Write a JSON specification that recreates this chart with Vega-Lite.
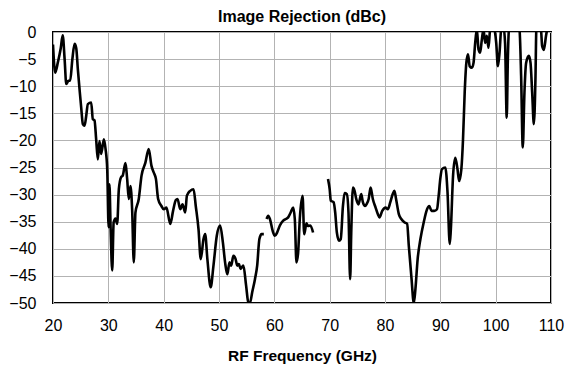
{
  "$schema": "https://vega.github.io/schema/vega-lite/v6.json",
  "width": 498,
  "height": 271,
  "autosize": "none",
  "padding": {"left": 53, "top": 32, "right": 22, "bottom": 66},
  "background": "white",
  "title": {"text": "Image Rejection (dBc)", "font": "Liberation Sans", "fontSize": 16, "fontWeight": "bold", "color": "#000000", "offset": -1, "anchor": "middle"},
  "config": {
    "view": {"stroke": "#000000", "strokeWidth": 2},
    "axis": {"labelFont": "Liberation Sans", "labelFontSize": 16, "labelColor": "#000000", "titleFont": "Liberation Sans", "titleFontSize": 15.5, "titleFontWeight": "bold", "titleColor": "#000000", "domain": false, "ticks": false, "gridColor": "#b3b3b3", "gridWidth": 1, "gridOpacity": 1}
  },
  "data": {"values": [
    {"f":20.0,"db":-2.3,"s":1},{"f":20.4,"db":-7.5,"s":1},{"f":20.9,"db":-5.5,"s":1},{"f":21.4,"db":-3.0,"s":1},{"f":21.75,"db":-0.6,"s":1},{"f":22.1,"db":-5.0,"s":1},{"f":22.4,"db":-9.6,"s":1},{"f":22.8,"db":-9.0,"s":1},{"f":23.1,"db":-9.0,"s":1},{"f":23.5,"db":-5.0,"s":1},{"f":23.9,"db":-2.2,"s":1},{"f":24.2,"db":-3.0,"s":1},{"f":24.5,"db":-7.0,"s":1},{"f":24.8,"db":-10.6,"s":1},{"f":25.1,"db":-14.0,"s":1},{"f":25.4,"db":-17.0,"s":1},{"f":25.7,"db":-17.3,"s":1},{"f":26.0,"db":-15.5,"s":1},{"f":26.3,"db":-13.3,"s":1},{"f":26.9,"db":-13.0,"s":1},{"f":27.2,"db":-16.1,"s":1},{"f":27.5,"db":-16.3,"s":1},{"f":27.8,"db":-19.8,"s":1},{"f":28.1,"db":-23.5,"s":1},{"f":28.4,"db":-20.1,"s":1},{"f":28.7,"db":-22.5,"s":1},{"f":29.2,"db":-19.8,"s":1},{"f":29.5,"db":-21.6,"s":1},{"f":29.8,"db":-25.3,"s":1},{"f":30.05,"db":-36.0,"s":1},{"f":30.2,"db":-28.1,"s":1},{"f":30.4,"db":-35.7,"s":1},{"f":30.7,"db":-44.0,"s":1},{"f":30.96,"db":-35.1,"s":1},{"f":31.3,"db":-34.4,"s":1},{"f":31.6,"db":-35.4,"s":1},{"f":31.9,"db":-29.0,"s":1},{"f":32.3,"db":-26.8,"s":1},{"f":32.6,"db":-26.5,"s":1},{"f":33.1,"db":-24.2,"s":1},{"f":33.4,"db":-27.1,"s":1},{"f":33.7,"db":-30.8,"s":1},{"f":34.0,"db":-28.4,"s":1},{"f":34.3,"db":-32.7,"s":1},{"f":34.6,"db":-42.5,"s":1},{"f":34.9,"db":-33.3,"s":1},{"f":35.5,"db":-30.8,"s":1},{"f":36.0,"db":-26.5,"s":1},{"f":36.7,"db":-24.1,"s":1},{"f":37.3,"db":-21.6,"s":1},{"f":37.8,"db":-24.7,"s":1},{"f":38.2,"db":-25.9,"s":1},{"f":38.6,"db":-27.1,"s":1},{"f":39.0,"db":-30.8,"s":1},{"f":39.6,"db":-32.1,"s":1},{"f":40.0,"db":-32.7,"s":1},{"f":40.5,"db":-32.4,"s":1},{"f":41.2,"db":-35.4,"s":1},{"f":41.7,"db":-33.0,"s":1},{"f":42.2,"db":-31.0,"s":1},{"f":42.5,"db":-30.8,"s":1},{"f":43.0,"db":-32.7,"s":1},{"f":43.4,"db":-31.8,"s":1},{"f":43.9,"db":-33.3,"s":1},{"f":44.2,"db":-30.2,"s":1},{"f":44.8,"db":-29.3,"s":1},{"f":45.4,"db":-29.0,"s":1},{"f":45.8,"db":-32.1,"s":1},{"f":46.3,"db":-36.4,"s":1},{"f":46.7,"db":-41.9,"s":1},{"f":47.2,"db":-38.2,"s":1},{"f":47.5,"db":-37.3,"s":1},{"f":47.9,"db":-41.9,"s":1},{"f":48.5,"db":-47.1,"s":1},{"f":49.0,"db":-43.1,"s":1},{"f":49.6,"db":-37.6,"s":1},{"f":50.2,"db":-35.7,"s":1},{"f":50.7,"db":-38.8,"s":1},{"f":51.1,"db":-42.5,"s":1},{"f":51.5,"db":-44.7,"s":1},{"f":51.9,"db":-42.5,"s":1},{"f":52.2,"db":-43.1,"s":1},{"f":52.6,"db":-41.3,"s":1},{"f":53.0,"db":-41.9,"s":1},{"f":53.3,"db":-43.1,"s":1},{"f":53.6,"db":-42.8,"s":1},{"f":53.9,"db":-43.7,"s":1},{"f":54.4,"db":-43.1,"s":1},{"f":54.9,"db":-46.8,"s":1},{"f":55.3,"db":-49.9,"s":1},{"f":55.6,"db":-50.0,"s":1},{"f":56.0,"db":-48.0,"s":1},{"f":56.5,"db":-45.6,"s":1},{"f":56.9,"db":-43.1,"s":1},{"f":57.3,"db":-38.2,"s":1},{"f":57.7,"db":-37.3,"s":1},{"f":58.1,"db":-37.3,"s":1},
    {"f":58.6,"db":-34.5,"s":2},{"f":58.9,"db":-33.9,"s":2},{"f":59.2,"db":-34.5,"s":2},{"f":59.7,"db":-36.7,"s":2},{"f":60.1,"db":-37.6,"s":2},{"f":60.5,"db":-37.0,"s":2},{"f":61.0,"db":-35.7,"s":2},{"f":61.6,"db":-34.8,"s":2},{"f":62.1,"db":-34.5,"s":2},{"f":62.5,"db":-34.2,"s":2},{"f":62.95,"db":-33.3,"s":2},{"f":63.4,"db":-32.4,"s":2},{"f":63.7,"db":-34.5,"s":2},{"f":64.0,"db":-42.5,"s":2},{"f":64.3,"db":-40.7,"s":2},{"f":64.6,"db":-34.5,"s":2},{"f":65.1,"db":-30.2,"s":2},{"f":65.4,"db":-37.3,"s":2},{"f":65.8,"db":-35.3,"s":2},{"f":66.1,"db":-35.8,"s":2},{"f":66.5,"db":-35.7,"s":2},{"f":67.0,"db":-37.0,"s":2},
    {"f":69.7,"db":-27.1,"s":3},{"f":70.0,"db":-29.0,"s":3},{"f":70.2,"db":-31.1,"s":3},{"f":70.7,"db":-31.4,"s":3},{"f":71.0,"db":-33.3,"s":3},{"f":71.3,"db":-37.0,"s":3},{"f":71.7,"db":-38.5,"s":3},{"f":72.0,"db":-38.2,"s":3},{"f":72.4,"db":-32.1,"s":3},{"f":72.7,"db":-29.7,"s":3},{"f":73.1,"db":-29.9,"s":3},{"f":73.4,"db":-33.3,"s":3},{"f":73.7,"db":-45.6,"s":3},{"f":73.9,"db":-37.0,"s":3},{"f":74.2,"db":-28.7,"s":3},{"f":74.5,"db":-29.3,"s":3},{"f":74.8,"db":-30.8,"s":3},{"f":75.2,"db":-31.8,"s":3},{"f":75.7,"db":-29.9,"s":3},{"f":76.0,"db":-31.4,"s":3},{"f":76.4,"db":-32.1,"s":3},{"f":76.7,"db":-31.7,"s":3},{"f":77.05,"db":-30.8,"s":3},{"f":77.4,"db":-28.7,"s":3},{"f":77.8,"db":-30.8,"s":3},{"f":78.3,"db":-32.4,"s":3},{"f":78.7,"db":-33.6,"s":3},{"f":79.0,"db":-34.2,"s":3},{"f":79.5,"db":-33.0,"s":3},{"f":80.1,"db":-32.4,"s":3},{"f":80.5,"db":-32.7,"s":3},{"f":80.96,"db":-31.4,"s":3},{"f":81.4,"db":-29.9,"s":3},{"f":81.7,"db":-29.3,"s":3},{"f":82.0,"db":-30.8,"s":3},{"f":82.5,"db":-33.6,"s":3},{"f":82.95,"db":-34.5,"s":3},{"f":83.5,"db":-35.1,"s":3},{"f":84.0,"db":-35.4,"s":3},{"f":84.3,"db":-39.4,"s":3},{"f":84.8,"db":-45.6,"s":3},{"f":85.2,"db":-50.0,"s":3},{"f":85.5,"db":-47.4,"s":3},{"f":85.9,"db":-41.9,"s":3},{"f":86.4,"db":-38.2,"s":3},{"f":87.0,"db":-35.1,"s":3},{"f":87.6,"db":-32.7,"s":3},{"f":88.0,"db":-32.1,"s":3},{"f":88.4,"db":-33.0,"s":3},{"f":88.9,"db":-33.0,"s":3},{"f":89.4,"db":-32.7,"s":3},{"f":89.7,"db":-30.2,"s":3},{"f":90.0,"db":-27.0,"s":3},{"f":90.3,"db":-25.3,"s":3},{"f":90.9,"db":-25.0,"s":3},{"f":91.3,"db":-29.6,"s":3},{"f":91.7,"db":-39.1,"s":3},{"f":91.9,"db":-36.4,"s":3},{"f":92.3,"db":-26.5,"s":3},{"f":92.7,"db":-23.2,"s":3},{"f":93.1,"db":-25.3,"s":3},{"f":93.4,"db":-27.5,"s":3},{"f":93.8,"db":-25.3,"s":3},{"f":94.1,"db":-19.8,"s":3},{"f":94.4,"db":-11.2,"s":3},{"f":94.7,"db":-5.7,"s":3},{"f":95.0,"db":-4.1,"s":3},{"f":95.3,"db":-6.3,"s":3},{"f":95.7,"db":-6.6,"s":3},{"f":96.0,"db":-5.7,"s":3},{"f":96.3,"db":-2.0,"s":3},{"f":96.6,"db":0.5,"s":3},{"f":96.9,"db":-3.2,"s":3},{"f":97.2,"db":-3.8,"s":3},{"f":97.5,"db":-1.4,"s":3},{"f":97.8,"db":0.5,"s":3},{"f":98.1,"db":-2.0,"s":3},{"f":98.4,"db":-0.7,"s":3},{"f":98.7,"db":-2.9,"s":3},{"f":99.0,"db":0.5,"s":3},{"f":99.5,"db":1.5,"s":3},{"f":99.8,"db":0.5,"s":3},{"f":100.1,"db":-2.0,"s":3},{"f":100.4,"db":-6.3,"s":3},{"f":100.7,"db":-3.8,"s":3},{"f":101.0,"db":0.5,"s":3},{"f":101.4,"db":1.0,"s":3},{"f":101.7,"db":-2.0,"s":3},{"f":102.0,"db":-15.8,"s":3},{"f":102.2,"db":-5.0,"s":3},{"f":102.4,"db":0.5,"s":3},{"f":103.4,"db":2.0,"s":3},{"f":104.3,"db":0.5,"s":3},{"f":104.6,"db":-8.1,"s":3},{"f":104.9,"db":-21.3,"s":3},{"f":105.2,"db":-11.2,"s":3},{"f":105.5,"db":-5.7,"s":3},{"f":106.0,"db":-4.4,"s":3},{"f":106.3,"db":-5.7,"s":3},{"f":106.6,"db":-11.2,"s":3},{"f":106.9,"db":-17.0,"s":3},{"f":107.2,"db":-8.1,"s":3},{"f":107.35,"db":0.5,"s":3},{"f":107.8,"db":1.5,"s":3},{"f":108.2,"db":0.3,"s":3},{"f":108.4,"db":-2.6,"s":3},{"f":108.7,"db":-3.3,"s":3},{"f":109.1,"db":-0.7,"s":3},{"f":109.3,"db":0.5,"s":3}
  ]},
  "mark": {"type": "line", "color": "#000000", "strokeWidth": 2.6, "interpolate": "monotone", "clip": true},
  "encoding": {
    "x": {"field": "f", "type": "quantitative", "scale": {"domain": [20, 110], "nice": false, "zero": false}, "axis": {"values": [20,30,40,50,60,70,80,90,100,110], "title": "RF Frequency (GHz)", "labelPadding": 14, "titlePadding": 15, "labelFlush": false}},
    "y": {"field": "db", "type": "quantitative", "scale": {"domain": [-50, 0], "nice": false, "zero": false}, "axis": {"values": [-50,-45,-40,-35,-30,-25,-20,-15,-10,-5,0], "title": null, "labelPadding": 17, "labelFlush": false}},
    "detail": {"field": "s", "type": "nominal"}
  }
}
